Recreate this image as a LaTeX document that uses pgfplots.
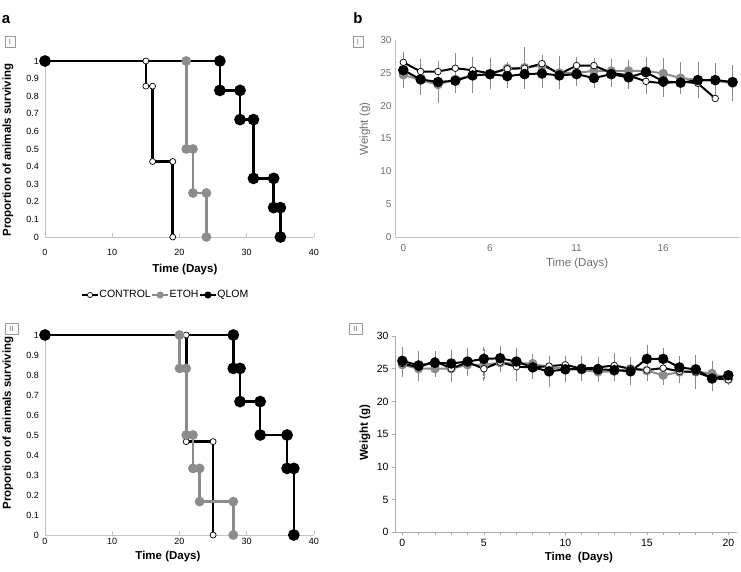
\documentclass[border=0pt]{standalone}
\usepackage{fontspec}
\setmainfont{Liberation Sans}
\usepackage{pgfplots}
\usepackage{pgfplotstable}
\pgfplotsset{compat=1.18}
\definecolor{eth}{HTML}{8C8C8C}
\definecolor{axg}{HTML}{C4C4C4}
\definecolor{lblg}{HTML}{6E6E6E}
\definecolor{errg}{HTML}{8A8A8A}

\pgfplotstableread{
x c ce e ee q qe
0 26.6 1.3 24.7 1.6 25.4 1.5
1 25.2 1.6 23.9 2.0 24.0 1.6
2 25.2 1.2 23.2 2.4 23.6 1.4
3 25.7 2.0 24.0 1.8 23.8 1.5
4 25.4 1.5 24.6 2.4 24.6 1.4
5 24.9 2.0 24.7 1.9 24.8 1.9
6 25.6 0.6 25.7 0.6 24.5 1.5
7 25.7 2.8 25.8 2.8 24.8 2.0
8 26.4 1.0 26.1 1.2 24.9 1.9
9 24.8 2.0 25.0 2.2 24.6 1.8
10 26.1 1.0 25.0 1.4 24.8 1.4
11 26.1 0.8 25.3 1.1 24.2 1.2
12 25.0 1.8 25.3 1.3 24.8 1.2
13 24.6 1.4 25.3 1.3 24.3 1.4
14 23.7 1.6 25.3 1.8 25.1 1.8
15 23.4 1.7 24.9 2.0 23.7 1.5
16 23.7 1.0 24.2 2.1 23.5 1.2
17 23.4 1.6 23.9 2.4 23.9 2.4
18 21.1 0.0 23.8 2.3 23.9 2.3
19 nan nan 23.4 2.3 23.6 2.2
}\wA

\pgfplotstableread{
x c ce e ee q qe
0 25.8 1.3 25.6 1.5 26.2 1.8
1 25.2 1.8 25.0 1.6 25.5 1.8
2 26.2 1.2 25.0 1.0 25.9 1.4
3 25.0 1.7 25.0 1.5 25.8 1.7
4 26.0 1.6 25.6 1.4 26.1 1.7
5 25.0 1.6 25.6 1.4 26.5 1.5
6 26.0 1.2 25.9 1.1 26.6 1.5
7 25.3 1.8 25.8 1.4 26.1 1.7
8 25.2 1.5 25.8 1.1 25.2 1.3
9 25.4 1.2 25.2 1.2 24.6 2.0
10 25.6 1.0 25.0 1.6 24.9 1.6
11 25.0 1.5 24.8 1.2 25.0 1.6
12 25.2 1.2 24.5 1.2 24.9 1.5
13 25.5 1.5 24.6 1.2 24.8 1.4
14 25.0 1.5 25.0 1.4 24.6 1.8
15 24.8 1.4 24.7 1.3 26.5 1.8
16 25.1 1.4 24.0 1.2 26.5 1.4
17 24.6 1.5 24.5 1.4 25.2 1.4
18 24.5 2.0 24.5 2.2 24.9 1.8
19 23.6 1.5 24.3 1.6 23.5 1.5
20 23.3 0.5 23.4 0.6 24.0 0.5
}\wB

\pgfplotsset{
  ctrlS/.style={black, line width=2.6pt, mark=*, mark size=3pt,
    mark options={fill=white, draw=black, line width=0.7pt}},
  etohS/.style={eth, line width=2.6pt, mark=*, mark size=3.5pt,
    mark options={fill=eth, draw=eth}},
  qlomS/.style={black, line width=2.6pt, mark=*, mark size=4.5pt,
    mark options={fill=black, draw=black}},
  ctrlW/.style={black, line width=2pt, mark=*, mark size=3.3pt,
    mark options={fill=white, draw=black, line width=0.7pt}},
  etohW/.style={eth, line width=2pt, mark=*, mark size=3.6pt,
    mark options={fill=eth, draw=eth}},
  qlomW/.style={black, line width=2pt, mark=*, mark size=4.2pt,
    mark options={fill=black, draw=black}},
  errb/.style={error bars/.cd, y dir=both, y explicit,
    error bar style={errg, line width=0.6pt},
    error mark options={errg, mark size=2.2pt, line width=0.7pt}},
  surv/.style={scale only axis, width=269pt, xmin=0, xmax=40, ymin=0, ymax=1,
    clip=false, axis lines*=left, axis line style={axg, line width=0.8pt},
    xtick={0,10,20,30,40},
    ytick={0,0.1,0.2,0.3,0.4,0.5,0.6,0.7,0.8,0.9,1},
    tick align=inside, major tick length=4pt,
    x tick style={axg, line width=0.8pt}, y tick style={draw=none},
    tick label style={font=\fontsize{9}{10}\selectfont, black},
    yticklabel style={xshift=-2.5pt},
    /pgf/number format/assume math mode=true,
    /pgf/number format/fixed,
    label style={font=\bfseries\fontsize{11.5}{13}\selectfont},
    ylabel={Proportion of animals surviving}, xlabel={Time (Days)}},
  wgt/.style={scale only axis, ymin=0, ymax=30, clip=false,
    axis lines*=left, ytick={0,5,10,15,20,25,30},
    /pgf/number format/assume math mode=true,
    ylabel={Weight (g)}},
}

\begin{document}
\begin{tikzpicture}[x=1pt,y=1pt]
\useasboundingbox (0,0) rectangle (741,571);

% ---------- a-I ----------
\begin{axis}[surv, at={(45pt,334pt)}, anchor=south west, height=176pt,
  xticklabel style={yshift=-9pt},
  ylabel style={at={(axis description cs:-0.1375,0.494)}, anchor=center},
  xlabel style={at={(axis description cs:0.52,-0.182)}, anchor=center}]
\addplot[ctrlS] coordinates {(0,1)(15,1)(15,0.857)(16,0.857)(16,0.429)(19,0.429)(19,0)};
\addplot[etohS] coordinates {(21,1)(21,0.5)(22,0.5)(22,0.25)(24,0.25)(24,0)};
\addplot[qlomS] coordinates {(0,1)(26,1)(26,0.833)(29,0.833)(29,0.667)(31,0.667)(31,0.333)(34,0.333)(34,0.167)(35,0.167)(35,0)};
\end{axis}

% ---------- a-II ----------
\begin{axis}[surv, at={(45pt,36pt)}, anchor=south west, height=200pt,
  xticklabel style={yshift=0pt},
  ylabel style={at={(axis description cs:-0.1375,0.56)}, anchor=center},
  xlabel style={at={(axis description cs:0.457,-0.11)}, anchor=center},
  legend style={draw=none, fill=none, at={(0.446,1.2)}, anchor=center,
    legend columns=3, font=\fontsize{10.5}{12}\selectfont, inner sep=0pt,
    /tikz/every even column/.append style={column sep=0pt},
    nodes={inner sep=0.5pt}},
  legend image code/.code={\draw[mark repeat=2,mark phase=2,#1]
    plot coordinates {(0pt,0pt)(8pt,0pt)(16pt,0pt)};},
  legend image post style={line width=1.8pt, mark size=2.6pt}]
\addplot[ctrlS] coordinates {(0,1)(21,1)(21,0.467)(25,0.467)(25,0)};
\addlegendentry{CONTROL}
\addplot[etohS] coordinates {(0,1)(20,1)(20,0.833)(21,0.833)(21,0.5)(22,0.5)(22,0.333)(23,0.333)(23,0.167)(28,0.167)(28,0)};
\addlegendentry{ETOH}
\addplot[qlomS] coordinates {(0,1)(28,1)(28,0.833)(29,0.833)(29,0.667)(32,0.667)(32,0.5)(36,0.5)(36,0.333)(37,0.333)(37,0)};
\addlegendentry{QLOM}
\end{axis}

% ---------- b-I ----------
\begin{axis}[wgt, at={(395pt,334pt)}, anchor=south west, width=345pt, height=197pt,
  xmin=-0.48, xmax=19.43, xtick={0,5,10,15}, xticklabels={0,6,11,16},
  axis line style={axg, line width=0.8pt}, major tick length=0pt,
  tick label style={font=\fontsize{10}{12}\selectfont, lblg},
  xticklabel style={yshift=-4pt},
  label style={font=\fontsize{11.5}{13}\selectfont, lblg},
  xlabel={Time (Days)},
  ylabel style={at={(axis description cs:-0.087,0.548)}, anchor=center},
  xlabel style={at={(axis description cs:0.528,-0.137)}, anchor=center}]
\addplot[etohW, errb] table[x=x, y=e, y error=ee] {\wA};
\addplot[ctrlW, errb] table[x=x, y=c, y error=ce] {\wA};
\addplot[qlomW, errb] table[x=x, y=q, y error=qe] {\wA};
\end{axis}

% ---------- b-II ----------
\begin{axis}[wgt, at={(395pt,38.7pt)}, anchor=south west, width=342pt, height=196.3pt,
  xmin=-0.45, xmax=20.53, xtick={0,5,10,15,20}, minor x tick num=4,
  axis line style={gray!65, line width=0.8pt},
  tick style={gray!65, line width=0.6pt}, tick align=outside,
  major tick length=3pt, minor tick length=2.5pt,
  tick label style={font=\fontsize{10.5}{12}\selectfont, black},
  label style={font=\bfseries\fontsize{11.5}{13}\selectfont},
  xlabel={Time~~(Days)},
  ylabel style={at={(axis description cs:-0.088,0.506)}, anchor=center},
  xlabel style={at={(axis description cs:0.538,-0.131)}, anchor=center}]
\addplot[etohW, errb] table[x=x, y=e, y error=ee] {\wB};
\addplot[ctrlW, errb] table[x=x, y=c, y error=ce] {\wB};
\addplot[qlomW, errb] table[x=x, y=q, y error=qe] {\wB};
\end{axis}

% ---------- panel letters and boxes ----------
\node[font=\bfseries\fontsize{15}{16}\selectfont] at (6,551) {a};
\node[font=\bfseries\fontsize{15}{16}\selectfont] at (358,553) {b};
\tikzset{rbox/.style={draw=gray!80, line width=0.6pt, inner sep=0pt,
  minimum height=11pt, font=\fontsize{7.5}{8}\selectfont, text=gray!90!black}}
\node[rbox, minimum width=10pt] at (10,529.5) {I};
\node[rbox, minimum width=10pt] at (358,529.5) {I};
\node[rbox, minimum width=13pt] at (11.5,242) {II};
\node[rbox, minimum width=13pt] at (355.5,242) {II};
\end{tikzpicture}
\end{document}
